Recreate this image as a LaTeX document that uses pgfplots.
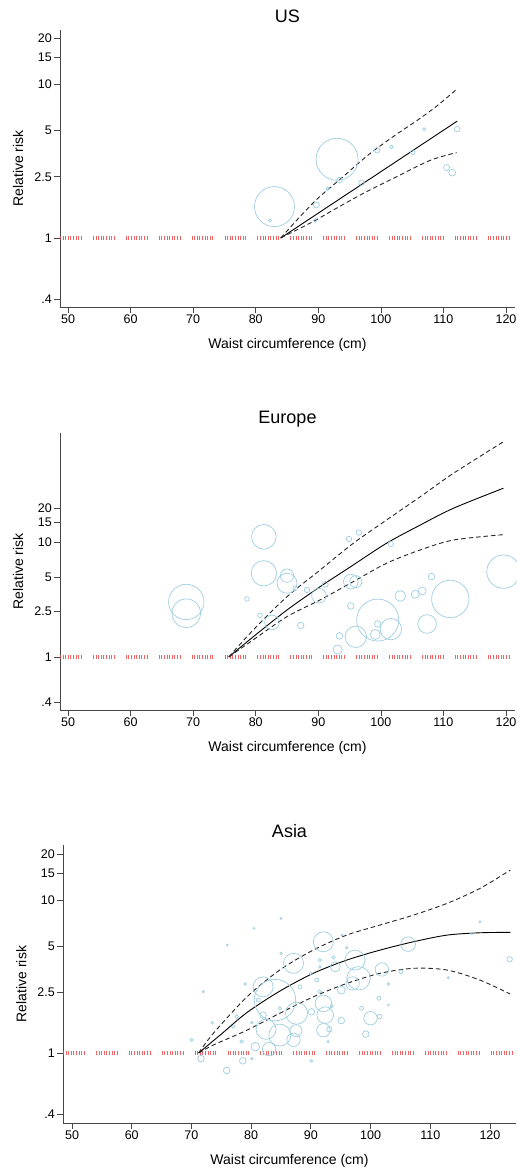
\documentclass[border=0pt]{standalone}
\usepackage{fontspec}
\setmainfont{Liberation Sans}
\usepackage{pgfplots}
\pgfplotsset{compat=1.18}

\definecolor{bubble}{RGB}{158,206,224}
\definecolor{refred}{RGB}{236,72,72}
\definecolor{axisgray}{RGB}{70,70,70}

% study-level estimates: waist (cm), relative risk, bubble radius (pt)
\pgfplotstableread{
x     y     r
83.0  1.60  20
82.3  1.30  1.6
93.0  3.25  21
89.7  1.64  3
89.5  1.30  1.8
91.5  2.09  1.8
93.4  2.38  2.8
96.9  2.29  2.8
99.4  3.72  2.8
101.7 3.91  1.8
105.1 3.61  2.3
106.9 5.10  1.6
110.5 2.87  3
111.4 2.66  3.4
112.2 5.10  2.8
}\studiesUS

\pgfplotstableread{
x     y     r
68.9  3.02  17.7
68.9  2.41  14.3
78.6  3.21  2.3
81.3  11.2  12.3
81.3  5.38  12.7
80.7  2.31  2.3
82.6  2.00  7.3
85.0  5.13  6.7
85.0  4.40  10
86.3  3.98  2.3
87.2  1.88  3.3
88.2  3.85  2.7
90.1  3.43  7.3
91.1  4.31  3
93.1  1.16  4.7
93.4  1.53  3.3
94.9  10.7  2.7
96.5  12.2  2.7
95.2  4.55  7.3
96.0  4.55  6
95.2  2.79  3.3
96.0  1.50  10.7
99.5  2.10  21
99.5  1.94  3.3
99.1  1.57  5
101.6 1.75  10.7
101.6 9.70  2.7
103.1 3.41  5.3
105.5 3.53  4
106.6 3.77  4
107.4 1.94  9.3
108.1 5.03  3.3
111.1 3.21  18.7
119.6 5.56  16.7
}\studiesEU

\pgfplotstableread{
x     y     r
70.0  1.22  1.5
71.6  0.92  3.3
72.0  2.52  1
73.5  1.58  1.3
76.0  5.08  1
75.9  0.77  3.3
78.6  0.89  3.3
80.5  6.53  1
85.0  7.59  1
82.0  2.71  10
84.0  2.22  20.7
87.1  3.86  10
92.1  5.34  10
87.6  1.82  11
82.5  1.43  10
84.8  1.31  11
87.1  1.22  6.7
87.5  1.40  6
83.0  1.06  6.7
80.7  1.10  4.3
82.0  1.77  3.3
97.4  4.05  10
98.0  3.08  11.7
97.0  2.85  6.7
101.9 3.52  6.7
106.3 5.15  7.3
94.1  3.66  5
95.1  2.58  4
92.1  2.11  8.3
92.4  1.77  8.3
92.1  1.41  6.7
93.1  1.43  2.7
100.0 1.69  6.7
99.2  1.33  3.3
95.1  1.63  3.3
90.1  1.86  3.3
98.5  1.96  2
101.4 2.28  2
103.0 2.06  1
103.0 2.83  1.3
101.5 1.73  2.3
123.3 4.10  2.7
118.3 7.21  1
113.0 3.11  1
105.1 3.40  2
95.2  5.90  1
93.8  4.22  1.7
96.0  4.88  1.3
91.5  4.05  1.7
85.0  4.48  1.3
79.0  2.83  1.3
81.2  2.22  2
77.6  1.73  1.7
77.0  1.49  1.7
78.4  1.19  1.7
80.1  0.92  1.3
90.1  0.89  1.3
92.9  1.19  1
91.5  2.52  1.7
91.0  3.00  2
90.0  3.32  1.3
91.5  3.66  1.3
88.2  2.71  2
84.8  1.96  1.7
80.1  1.58  1.3
93.5  2.03  1.7
117.0 6.06  1.3
}\studiesAS

% pooled dose-response curve and its confidence band
\pgfplotstableread{
x     y
84.0  1
112.2 5.75
}\fitUS
\pgfplotstableread{
x     y
84.0  1
87.0  1.365
90.0  1.82
94.0  2.51
98.0  3.47
102.0 4.57
106.0 5.89
109.0 7.24
112.0 9.18
}\upUS
\pgfplotstableread{
x     y
84.0  1
89.2  1.28
91.9  1.48
97.2  1.95
102.5 2.50
107.9 3.20
112.1 3.59
}\loUS

\pgfplotstableread{
x     y
75.7  1
79.6  1.50
85.0  2.57
90.3  4.11
95.6  6.36
100.9 9.84
106.3 14.2
111.6 19.9
119.6 29.8
}\fitEU
\pgfplotstableread{
x     y
75.7  1
79.6  1.72
85.0  3.36
90.3  5.75
95.6  9.84
100.9 15.7
106.3 25.1
111.6 40.2
119.6 75.9
}\upEU
\pgfplotstableread{
x     y
75.7  1
79.6  1.41
85.0  2.25
90.3  3.15
95.6  4.55
100.9 6.58
106.3 8.60
111.6 10.5
119.6 11.7
}\loEU

\pgfplotstableread{
x     y
71.2  1
75.0  1.33
79.3  1.84
84.8  2.54
90.4  3.32
96.0  4.05
101.6 4.71
107.2 5.34
112.8 5.90
118.3 6.11
123.4 6.15
}\fitAS
\pgfplotstableread{
x     y
71.2  1
73.7  1.35
79.3  2.33
84.8  3.49
90.4  4.71
96.0  5.90
101.6 6.87
107.2 7.98
112.8 9.51
118.3 11.9
123.4 15.7
}\upAS
\pgfplotstableread{
x     y
71.2  1
73.7  1.13
79.3  1.41
84.8  1.82
90.4  2.33
96.0  2.85
101.6 3.32
107.2 3.58
112.8 3.49
118.3 3.00
123.4 2.43
}\loAS

\pgfplotsset{
  rrpanel/.style={
    scale only axis,
    axis lines=left,
    axis line style={-, axisgray, line width=0.7pt},
    tick align=outside,
    major tick length=6pt,
    tick style={axisgray, line width=0.7pt},
    minor tick num=0,
    xtick={50,60,70,80,90,100,110,120},
    xticklabels={50,60,70,80,90,100,110,120},
    ytick={0.4,1,2.5,5,10,15,20},
    yticklabels={.4,1,2.5,5,10,15,20},
    tick label style={font=\fontsize{12.5}{14}\selectfont},
    yticklabel style={inner sep=2pt},
    xticklabel style={inner sep=2pt},
    title style={font=\fontsize{18}{20}\selectfont, at={(0.5,1)}, anchor=center, yshift=8pt},
    xlabel={Waist circumference (cm)},
    ylabel={Relative risk},
    label style={font=\fontsize{14}{16}\selectfont},
    xlabel style={at={(axis description cs:0.5,0)}, anchor=center, yshift=-38pt},
    ylabel style={at={(axis description cs:-0.092,0.5)}, anchor=center},
    clip=false,
  },
  refline/.style={refred, opacity=0.85, line width=3.4pt,
    dash pattern=on 0.9pt off 1.7pt on 0.9pt off 1.7pt on 0.9pt off 1.7pt on 0.9pt off 1.7pt
      on 0.9pt off 1.7pt on 0.9pt off 1.7pt on 0.9pt off 1.7pt on 0.9pt off 1.7pt on 0.9pt off 11.2pt},
  studies/.style={only marks, mark=o, scatter,
    visualization depends on={\thisrow{r}\as\rad},
    scatter/use mapped color={draw=bubble, fill=none},
    scatter/@pre marker code/.append style={/tikz/mark size=\rad pt},
    mark options={line width=0.7pt}},
  fit/.style={black, line width=0.9pt, smooth},
  band/.style={black!85, line width=0.9pt, smooth, dash pattern=on 4.5pt off 3pt},
}

\begin{document}
\begin{tikzpicture}[x=1pt,y=1pt]
\useasboundingbox (0,0) rectangle (517,1171);

% US
\begin{semilogyaxis}[rrpanel, at={(60pt,864pt)}, anchor=south west,
  width=455pt, height=277pt,
  xmin=48.72, xmax=121.44, ymin=0.356, ymax=22.5, title={US}]
  \addplot[refline] coordinates {(48.72,1) (121.2,1)};
  \addplot[studies] table[x=x,y=y] {\studiesUS};
  \addplot[fit] table[x=x,y=y] {\fitUS};
  \addplot[band] table[x=x,y=y] {\upUS};
  \addplot[band] table[x=x,y=y] {\loUS};
\end{semilogyaxis}

% Europe
\begin{semilogyaxis}[rrpanel, at={(60pt,461pt)}, anchor=south west,
  width=455pt, height=277pt,
  xmin=48.72, xmax=121.44, ymin=0.344, ymax=90.4, title={Europe}]
  \addplot[refline] coordinates {(48.72,1) (121.44,1)};
  \addplot[studies] table[x=x,y=y] {\studiesEU};
  \addplot[fit] table[x=x,y=y] {\fitEU};
  \addplot[band] table[x=x,y=y] {\upEU};
  \addplot[band] table[x=x,y=y] {\loEU};
\end{semilogyaxis}

% Asia
\begin{semilogyaxis}[rrpanel, at={(63pt,48pt)}, anchor=south west,
  width=453pt, height=278pt,
  xmin=48.49, xmax=124.36, ymin=0.349, ymax=22.9, title={Asia}]
  \addplot[refline] coordinates {(48.49,1) (124.36,1)};
  \addplot[studies] table[x=x,y=y] {\studiesAS};
  \addplot[fit] table[x=x,y=y] {\fitAS};
  \addplot[band] table[x=x,y=y] {\upAS};
  \addplot[band] table[x=x,y=y] {\loAS};
\end{semilogyaxis}
\end{tikzpicture}
\end{document}
